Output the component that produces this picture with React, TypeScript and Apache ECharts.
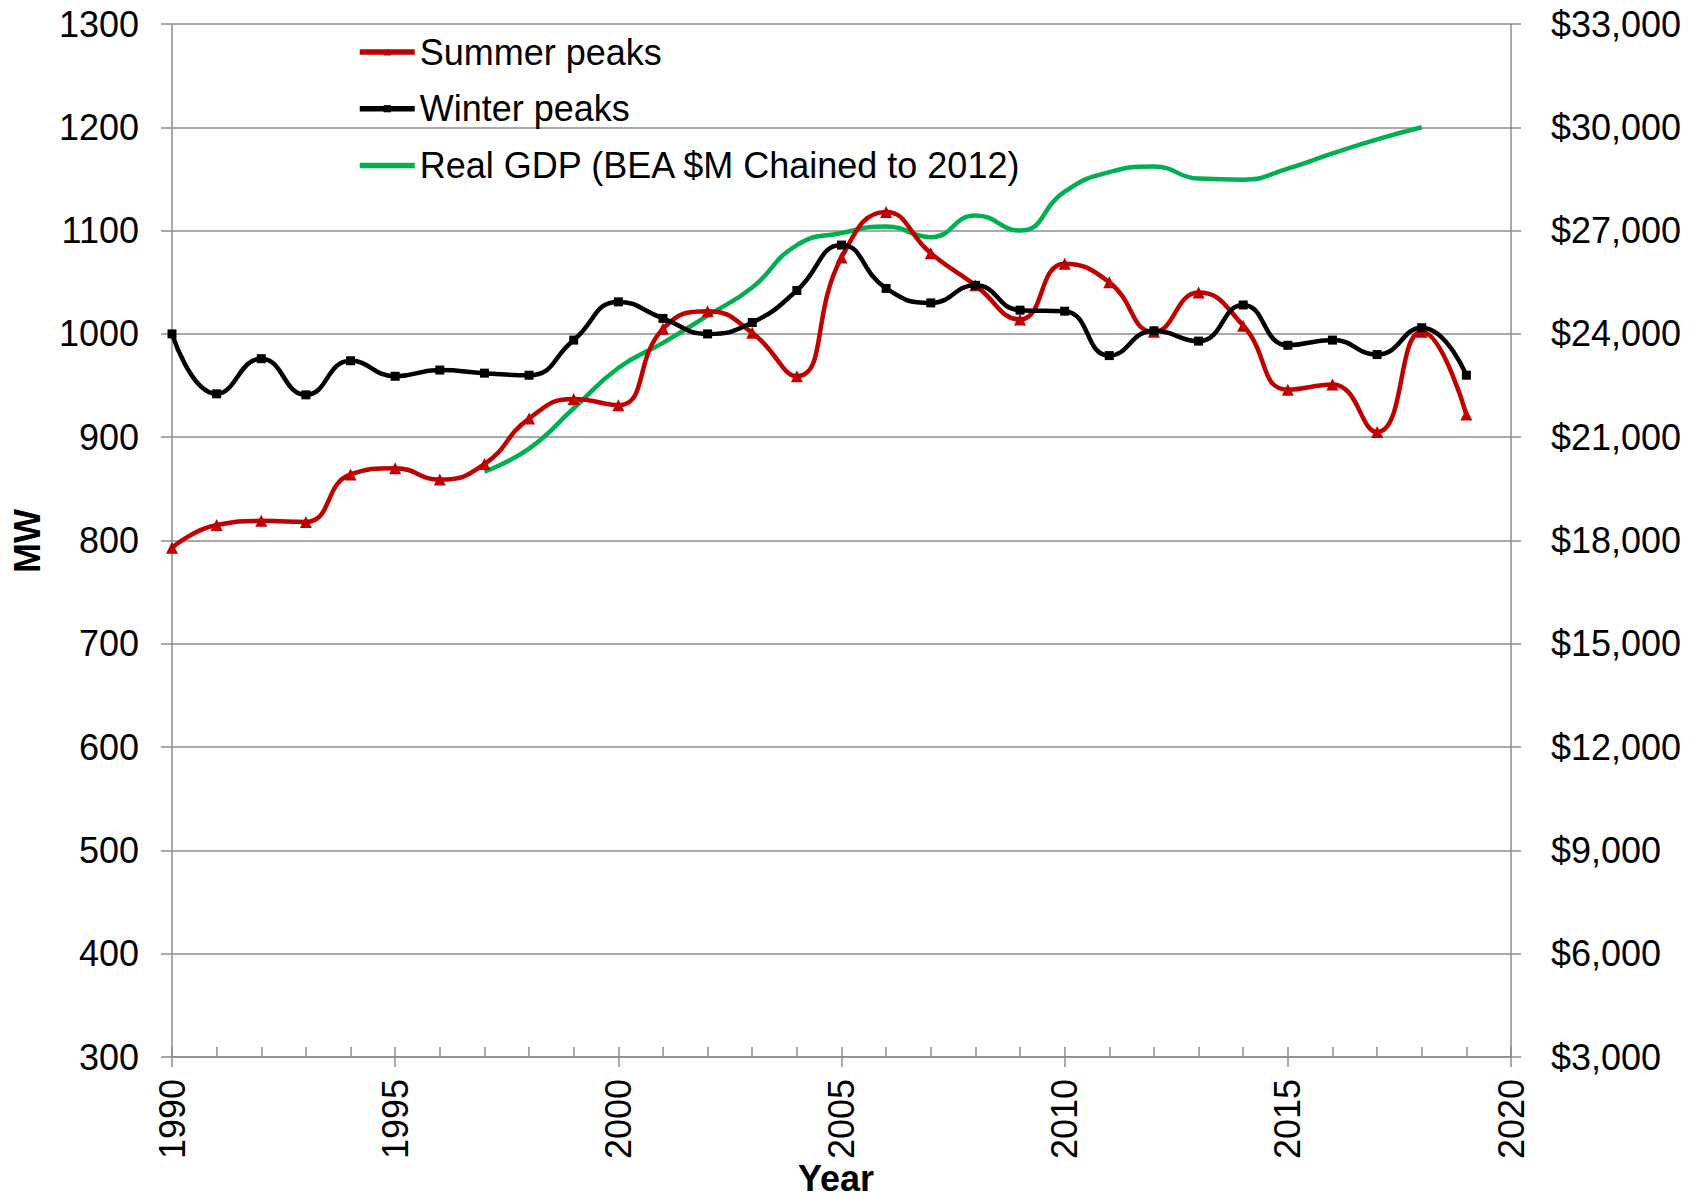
import React, { useEffect, useRef } from "react";
import * as echarts from "echarts";

const years = [
  1990, 1991, 1992, 1993, 1994, 1995, 1996, 1997, 1998, 1999,
  2000, 2001, 2002, 2003, 2004, 2005, 2006, 2007, 2008, 2009,
  2010, 2011, 2012, 2013, 2014, 2015, 2016, 2017, 2018, 2019,
];

const summerPeaks = [
  793, 815, 819, 818, 864, 870, 859, 874, 918, 937,
  931, 1005, 1022, 1001, 959, 1074, 1118, 1078, 1047, 1014,
  1068, 1050, 1002, 1040, 1008, 946, 951, 905, 1002, 922,
];

const winterPeaks = [
  1000, 942, 976, 941, 974, 959, 965, 962, 960, 994,
  1031, 1015, 1000, 1011, 1042, 1086, 1044, 1030, 1047, 1023,
  1022, 979, 1003, 993, 1028, 989, 994, 980, 1006, 960,
];

const gdpYears = [
  1997, 1998, 1999, 2000, 2001, 2002, 2003, 2004, 2005, 2006, 2007,
  2008, 2009, 2010, 2011, 2012, 2013, 2014, 2015, 2016, 2017, 2018,
];

const realGdp = [
  20000, 20670, 21840, 23010, 23740, 24530, 25350, 26580, 26930, 27120, 26810,
  27440, 27000, 28130, 28700, 28860, 28510, 28480, 28800, 29240, 29650, 30000,
];

const seriesNames = ["Summer peaks", "Winter peaks", "Real GDP (BEA $M Chained to 2012)"];

export default function App() {
  const ref = useRef<HTMLDivElement>(null);

  useEffect(() => {
    if (!ref.current) return;
    const chart = echarts.init(ref.current, null, { renderer: "svg" });
    const font = "'Liberation Sans', Arial, Helvetica, sans-serif";
    const gray = "#8c8c8c";
    const axisLineStyle = { color: gray, width: 1.5 };

    chart.setOption({
      animation: false,
      backgroundColor: "#ffffff",
      textStyle: { fontFamily: font },
      grid: { left: 172, right: 196, top: 24, bottom: 140, containLabel: false, outerBoundsMode: "none" },
      legend: {
        orient: "vertical",
        left: 357,
        top: 32,
        padding: 0,
        itemWidth: 55,
        itemHeight: 9,
        itemGap: 16.7,
        lineStyle: { width: 5.5 },
        data: [
          { name: seriesNames[0] },
          { name: seriesNames[1] },
          { name: seriesNames[2], itemStyle: { opacity: 0 } },
        ],
        textStyle: { fontSize: 36, color: "#000", fontFamily: font, lineHeight: 40 },
      },
      xAxis: [
        {
          type: "value",
          min: 1990,
          max: 2020,
          interval: 5,
          axisLine: { show: true, lineStyle: axisLineStyle },
          axisTick: { show: true, length: 10, lineStyle: axisLineStyle },
          axisLabel: {
            rotate: 90,
            margin: 22,
            fontSize: 36,
            color: "#000",
            fontFamily: font,
            formatter: (v: number) => String(v),
          },
          splitLine: { show: false },
        },
        {
          type: "value",
          min: 1990,
          max: 2020,
          interval: 1,
          position: "bottom",
          axisLine: { show: false },
          axisTick: { show: true, inside: true, length: 10, lineStyle: axisLineStyle },
          axisLabel: { show: false },
          splitLine: { show: false },
        },
      ],
      yAxis: [
        {
          type: "value",
          min: 300,
          max: 1300,
          interval: 100,
          position: "left",
          axisLine: { show: true, lineStyle: axisLineStyle },
          axisTick: { show: true, length: 11, lineStyle: axisLineStyle },
          axisLabel: {
            fontSize: 36,
            color: "#000",
            margin: 33,
            fontFamily: font,
            formatter: (v: number) => String(v),
          },
          splitLine: { show: true, lineStyle: axisLineStyle },
        },
        {
          type: "value",
          min: 3000,
          max: 33000,
          interval: 3000,
          position: "right",
          axisLine: { show: true, lineStyle: axisLineStyle },
          axisTick: { show: true, length: 10, lineStyle: axisLineStyle },
          axisLabel: {
            fontSize: 36,
            color: "#000",
            margin: 40,
            fontFamily: font,
            formatter: (v: number) => "$" + v.toLocaleString("en-US"),
          },
          splitLine: { show: false },
        },
      ],
      graphic: [
        {
          type: "text",
          x: 836,
          y: 1178,
          style: {
            text: "Year",
            font: "bold 36px " + font,
            fill: "#000",
            textAlign: "center",
            textVerticalAlign: "middle",
          },
        },
        {
          type: "text",
          x: 27,
          y: 541,
          rotation: Math.PI / 2,
          style: {
            text: "MW",
            font: "bold 36px " + font,
            fill: "#000",
            textAlign: "center",
            textVerticalAlign: "middle",
          },
        },
      ],
      series: [
        {
          name: seriesNames[0],
          type: "line",
          xAxisIndex: 0,
          yAxisIndex: 0,
          smooth: 0.5,
          symbol: "triangle",
          symbolSize: 12,
          color: "#C00000",
          lineStyle: { width: 4.5, color: "#C00000" },
          itemStyle: { color: "#C00000" },
          data: years.map((y, i) => [y, summerPeaks[i]]),
          z: 3,
        },
        {
          name: seriesNames[1],
          type: "line",
          xAxisIndex: 0,
          yAxisIndex: 0,
          smooth: 0.5,
          symbol: "rect",
          symbolSize: 9,
          color: "#000000",
          lineStyle: { width: 4.5, color: "#000000" },
          itemStyle: { color: "#000000" },
          data: years.map((y, i) => [y, winterPeaks[i]]),
          z: 4,
        },
        {
          name: seriesNames[2],
          type: "line",
          xAxisIndex: 0,
          yAxisIndex: 1,
          smooth: 0.5,
          symbol: "none",
          color: "#00B050",
          lineStyle: { width: 4.5, color: "#00B050" },
          data: gdpYears.map((y, i) => [y, realGdp[i]]),
          z: 2,
        },
      ],
    });

    return () => chart.dispose();
  }, []);

  return (
    <div
      ref={ref}
      style={{ position: "absolute", left: 0, top: 0, width: 1707, height: 1197 }}
    />
  );
}
